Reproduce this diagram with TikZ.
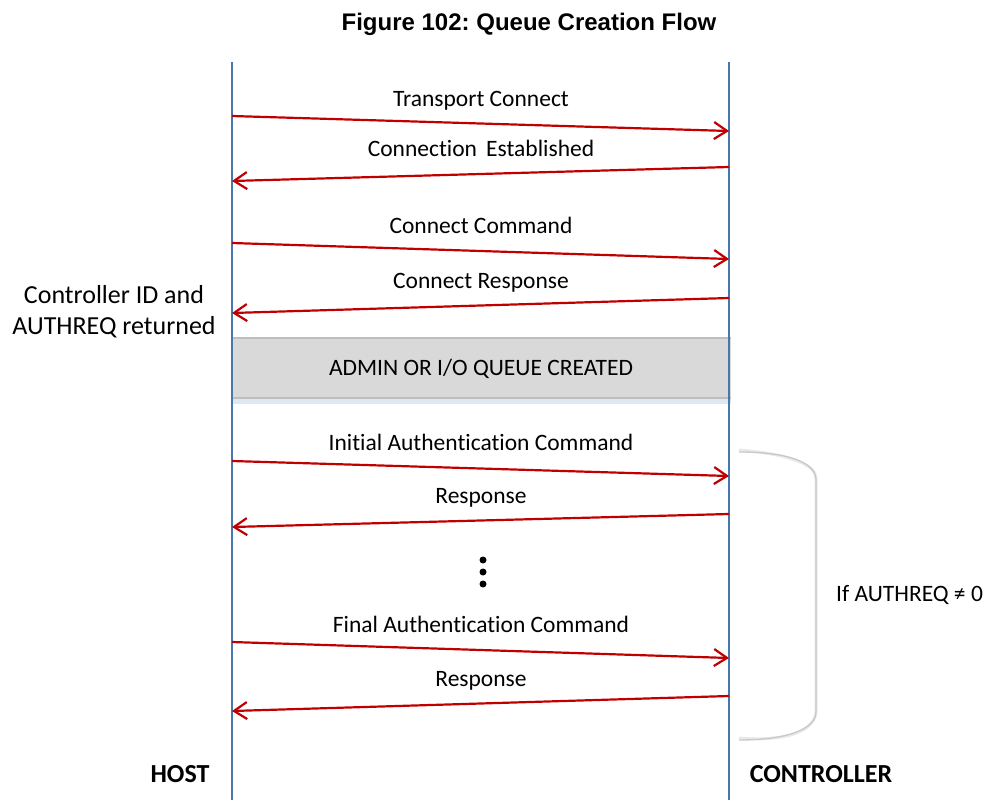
\documentclass[tikz,border=0pt]{standalone}
\usepackage{fontspec}
\setmainfont[Ligatures=NoCommon]{Carlito}
\newfontfamily\titlefont{Liberation Sans}
\usetikzlibrary{arrows.meta}
\definecolor{lifeblue}{RGB}{70,120,175}
\definecolor{msgred}{RGB}{192,0,0}
\definecolor{boxgray}{RGB}{217,217,217}
\definecolor{boxedge}{RGB}{190,190,190}
\definecolor{boxshade}{RGB}{222,231,242}
\definecolor{bracegray}{RGB}{200,200,200}
\begin{document}
\frenchspacing
\begin{tikzpicture}[x=1pt,y=-1pt,
  lifeline/.style={draw=lifeblue,line width=2pt},
  msg/.style={draw=msgred,line width=2.2pt,-{Straight Barb[length=13pt,width=17pt,line width=2.2pt]}},
  msglabel/.style={font=\fontsize{23.5}{28}\selectfont,inner sep=0pt,anchor=base},
  sidelabel/.style={font=\fontsize{26}{31}\selectfont,align=center,inner sep=0pt,anchor=base},
  endlabel/.style={font=\fontsize{26}{30}\selectfont\bfseries,inner sep=0pt,anchor=base},
  qbox/.style={fill=boxgray,minimum width=499pt,minimum height=60pt,inner sep=0pt},
  dot/.style={circle,fill=black,minimum size=7pt,inner sep=0pt}]
\useasboundingbox (0,0) rectangle (987,800);
% title
\node[font=\titlefont\fontsize{24}{28}\selectfont\bfseries,inner sep=0pt,anchor=base] (title) at (529,31) {Figure 102: Queue Creation Flow};
% queue box
\fill[boxshade] (233,398) rectangle (731,404);
\node[qbox] (qb) at (481.5,368) {};
\draw[boxedge,line width=2pt] (qb.north west) -- (qb.north east);
\draw[boxedge,line width=2pt] (qb.south west) -- (qb.south east);
\node[msglabel] (qbt) at (481,375) {ADMIN OR I/O QUEUE CREATED};
% lifelines
\coordinate (h0) at (232,62); \coordinate (h1) at (232,800);
\coordinate (c0) at (729,62); \coordinate (c1) at (729,800);
\draw[lifeline] (h0) -- (h1);
\draw[lifeline] (c0) -- (c1);
% message endpoints
\coordinate (m1a) at (232,116); \coordinate (m1b) at (729,131);
\coordinate (m2a) at (729,167); \coordinate (m2b) at (232,181);
\coordinate (m3a) at (232,243); \coordinate (m3b) at (729,259);
\coordinate (m4a) at (729,298); \coordinate (m4b) at (232,313);
\coordinate (m5a) at (232,461); \coordinate (m5b) at (729,476);
\coordinate (m6a) at (729,514); \coordinate (m6b) at (232,527);
\coordinate (m7a) at (232,642); \coordinate (m7b) at (729,658);
\coordinate (m8a) at (729,696); \coordinate (m8b) at (232,711);
\draw[msg] (m1a) -- (m1b);
\draw[msg] (m2a) -- (m2b);
\draw[msg] (m3a) -- (m3b);
\draw[msg] (m4a) -- (m4b);
\draw[msg] (m5a) -- (m5b);
\draw[msg] (m6a) -- (m6b);
\draw[msg] (m7a) -- (m7b);
\draw[msg] (m8a) -- (m8b);
% message labels
\node[msglabel] (l1) at (481,106) {Transport Connect};
\node[msglabel] (l2) at (481,156) {Connection\, Established};
\node[msglabel] (l3) at (481,233) {Connect Command};
\node[msglabel] (l4) at (481,288) {Connect Response};
\node[msglabel] (l5) at (481,450) {Initial Authentication Command};
\node[msglabel] (l6) at (481,503) {Response};
\node[msglabel] (l7) at (481,632) {Final Authentication Command};
\node[msglabel] (l8) at (481,686) {Response};
% dots
\node[dot] (d1) at (483,560) {};
\node[dot] (d2) at (483,572) {};
\node[dot] (d3) at (483,584) {};
% side label
\node[sidelabel] (side) at (114,334) {Controller ID and\\AUTHREQ returned};
% bracket
\coordinate (b0) at (739,452);
\coordinate (b1) at (816,480);
\coordinate (b2) at (816,712);
\coordinate (b3) at (739,740);
\draw[bracegray!40,line width=3pt] ([yshift=2pt]b0) .. controls (790,454) and (816,465) .. ([yshift=2pt]b1) -- ([yshift=2pt]b2) .. controls (816,730) and (790,742) .. ([yshift=2pt]b3);
\draw[bracegray,line width=1.3pt] (b0) .. controls (790,452) and (816,463) .. (b1) -- (b2) .. controls (816,728) and (790,740) .. (b3);
\node[msglabel,anchor=base west] (cond) at (836,601) {If AUTHREQ ≠ 0};
% end labels
\node[endlabel] (host) at (180,782) {HOST};
\node[endlabel] (ctrl) at (821,782) {CONTROLLER};
\end{tikzpicture}
\end{document}
